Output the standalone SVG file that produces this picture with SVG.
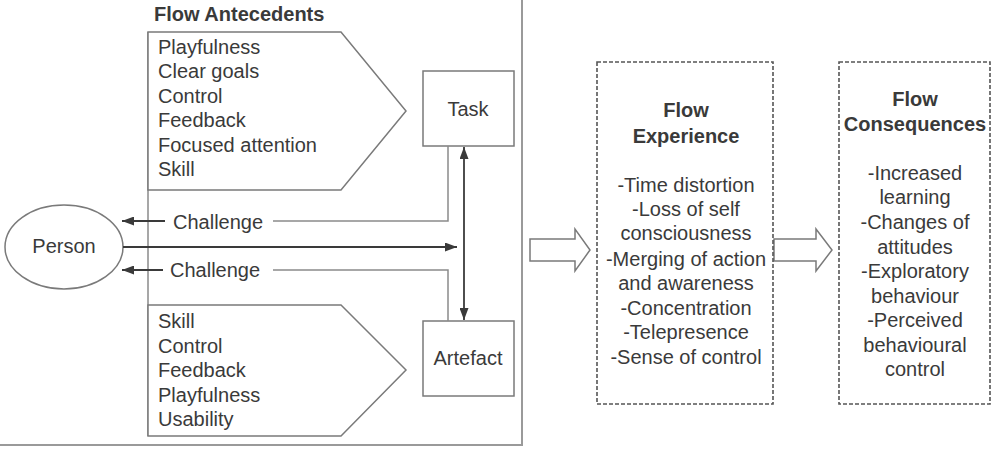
<svg xmlns="http://www.w3.org/2000/svg" width="996" height="451" viewBox="0 0 996 451">
<defs>
<marker id="ah" viewBox="0 0 12 9" refX="12" refY="4.5" markerWidth="12" markerHeight="9" markerUnits="userSpaceOnUse" orient="auto-start-reverse">
<path d="M0,0 L12,4.5 L0,9 Z" fill="#3a3a3a"/>
</marker>
<style>
text{font-family:"Liberation Sans",Arial,sans-serif;font-size:20px;fill:#3a3a3a}
.b{font-weight:bold}
.m{text-anchor:middle}
.box{fill:#fff;stroke:#7a7a7a;stroke-width:1.5}
.frame{fill:none;stroke:#9a9a9a;stroke-width:2}
.ln{fill:none;stroke:#8a8a8a;stroke-width:1.5}
.ar{fill:none;stroke:#3a3a3a;stroke-width:1.8}
.dash{fill:#fff;stroke:#555;stroke-width:1.6;stroke-dasharray:4 2}
.hollow{fill:#fff;stroke:#7a7a7a;stroke-width:1.5}
</style>
</defs>
<rect width="996" height="451" fill="#fff"/>
<g id="frame">
<polyline class="frame" points="522,0 522,445 0,445"/>
<line class="ln" x1="148" y1="32" x2="148" y2="436"/>
</g>
<g id="title"><text class="b" x="154" y="21">Flow Antecedents</text></g>
<g id="task-antecedents">
<polygon class="box" points="148,32 341,32 406,111 341,190 148,190"/>
<text x="158" y="54">Playfulness</text>
<text x="158" y="78">Clear goals</text>
<text x="158" y="103">Control</text>
<text x="158" y="127">Feedback</text>
<text x="158" y="152">Focused attention</text>
<text x="158" y="176">Skill</text>
</g>
<g id="artefact-antecedents">
<polygon class="box" points="148,305 341,305 406,370 341,436 148,436"/>
<text x="158" y="328">Skill</text>
<text x="158" y="353">Control</text>
<text x="158" y="377">Feedback</text>
<text x="158" y="402">Playfulness</text>
<text x="158" y="426">Usability</text>
</g>
<g id="task">
<rect class="box" x="423" y="71" width="91" height="75"/>
<text class="m" x="468" y="116">Task</text>
</g>
<g id="artefact">
<rect class="box" x="423" y="321" width="91" height="75"/>
<text class="m" x="468" y="365">Artefact</text>
</g>
<g id="person">
<ellipse class="box" cx="64" cy="247" rx="59" ry="42"/>
<text class="m" x="64" y="253">Person</text>
</g>
<g id="connectors">
<polyline class="ln" points="448,146 448,221 273,221"/>
<line class="ar" x1="165" y1="221" x2="122" y2="221" marker-end="url(#ah)"/>
<text x="173" y="229">Challenge</text>
<polyline class="ln" points="448,321 448,270 273,270"/>
<line class="ar" x1="163" y1="270" x2="122" y2="270" marker-end="url(#ah)"/>
<text x="170" y="277">Challenge</text>
<line class="ar" x1="123" y1="247" x2="457" y2="247" marker-end="url(#ah)"/>
<line class="ar" x1="464" y1="147" x2="464" y2="320" marker-start="url(#ah)" marker-end="url(#ah)"/>
<polygon class="hollow" points="530,239 575,239 575,229 590,250 575,271 575,261 530,261"/>
<polygon class="hollow" points="774,239 816,239 816,229 832,250 816,271 816,261 774,261"/>
</g>
<g id="flow-experience">
<rect class="dash" x="597" y="62" width="176" height="342"/>
<text class="b m" x="686" y="117">Flow</text>
<text class="b m" x="686" y="143">Experience</text>
<text class="m" x="686" y="192">-Time distortion</text>
<text class="m" x="686" y="216">-Loss of self</text>
<text class="m" x="686" y="240">consciousness</text>
<text class="m" x="686" y="266">-Merging of action</text>
<text class="m" x="686" y="290">and awareness</text>
<text class="m" x="686" y="315">-Concentration</text>
<text class="m" x="686" y="339">-Telepresence</text>
<text class="m" x="686" y="364">-Sense of control</text>
</g>
<g id="flow-consequences">
<rect class="dash" x="839" y="62" width="151" height="342"/>
<text class="b m" x="915" y="106">Flow</text>
<text class="b m" x="915" y="131">Consequences</text>
<text class="m" x="915" y="180">-Increased</text>
<text class="m" x="915" y="204">learning</text>
<text class="m" x="915" y="229">-Changes of</text>
<text class="m" x="915" y="254">attitudes</text>
<text class="m" x="915" y="278">-Exploratory</text>
<text class="m" x="915" y="303">behaviour</text>
<text class="m" x="915" y="327">-Perceived</text>
<text class="m" x="915" y="352">behavioural</text>
<text class="m" x="915" y="376">control</text>
</g>
</svg>
